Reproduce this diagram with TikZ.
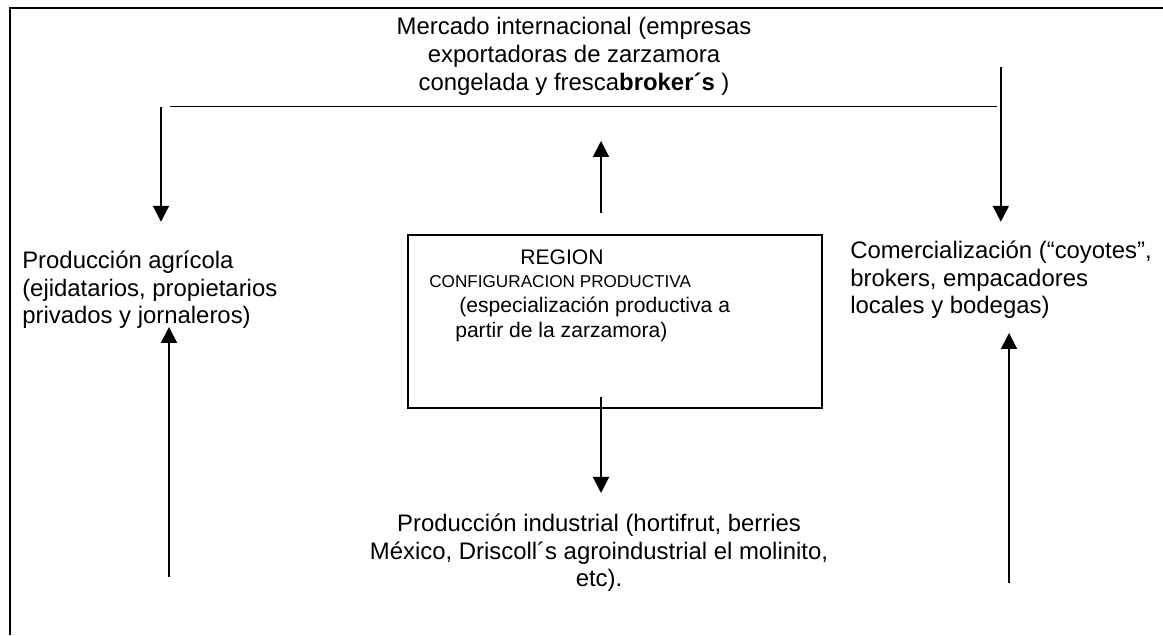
\documentclass[tikz,border=0pt]{standalone}
\usepackage{fontspec}
\setmainfont{Liberation Sans}
\usetikzlibrary{arrows.meta,positioning}

\begin{document}
\begin{tikzpicture}[
  txt/.style={font=\fontsize{17}{19.5}\selectfont, inner sep=0pt},
  boxline/.style={inner sep=0pt, anchor=west},
  flow/.style={-{Triangle[width=4mm,length=4mm]}, line width=1.35pt},
  link/.style={line width=1pt},
  frame/.style={line width=1.4pt},
]
\useasboundingbox (0,0) rectangle (29.075,15.875);

% ─── Outer frame (open to the right and below) ───
\draw[frame] (0.25,0) -- (0.25,15.675) -- (29.075,15.675);

% ─── Texts ───
\node[txt, align=center, font=\fontsize{17}{19.9}\selectfont] (mercado) at (14.35,14.475)
  {Mercado internacional (empresas\\exportadoras de zarzamora\\congelada y fresca\textbf{broker´s} )};
\node[txt, align=left, anchor=west] (agricola) at (0.55,8.625)
  {Producción agrícola\\(ejidatarios, propietarios\\privados y jornaleros)};
\node[txt, align=left, anchor=west] (comercial) at (21.25,8.875)
  {Comercialización (“coyotes”,\\brokers, empacadores\\locales y bodegas)};
\node[txt, align=center] (industrial) at (14.975,2.05)
  {Producción industrial (hortifrut, berries\\México, Driscoll´s agroindustrial el molinito,\\etc).};

% ─── Center box ───
\node[draw, line width=1pt, minimum width=10.35cm, minimum height=4.325cm, inner sep=0pt] (region) at (15.375,7.8375) {};
\node[boxline, anchor=center, font=\fontsize{15}{17}\selectfont] (reg) at (14.05,9.45) {REGION};
\node[boxline, font=\fontsize{12.2}{14}\selectfont] (config) at (10.725,8.825) {CONFIGURACION PRODUCTIVA};
\node[boxline, font=\fontsize{15}{17}\selectfont] (espec) at (11.475,8.2) {(especialización productiva a};
\node[boxline, font=\fontsize{15}{17}\selectfont] (partir) at (11.375,7.575) {partir de la zarzamora)};

% ─── Arrow ends ───
\coordinate (hl) at (4.25,13.21);
\coordinate (hr) at (24.925,13.21);
\coordinate (al) at (4.025,13.21);
\coordinate (alt) at (4.025,10.33);
\coordinate (ar) at (25.02,14.21);
\coordinate (art) at (25.02,10.33);
\coordinate (cu) at (15.025,10.55);
\coordinate (cut) at (15.025,12.35);
\coordinate (cd) at (15.025,5.95);
\coordinate (cdt) at (15.025,3.55);
\coordinate (lu) at (4.225,1.45);
\coordinate (lut) at (4.225,7.7);
\coordinate (ru) at (25.225,1.3);
\coordinate (rut) at (25.225,7.55);

% ─── Connectors ───
\draw[link] (hl) -- (hr);
\draw[flow] (al) -- (alt);
\draw[flow] (ar) -- (art);
\draw[flow] (cu) -- (cut);
\draw[flow] (cd) -- (cdt);
\draw[flow] (lu) -- (lut);
\draw[flow] (ru) -- (rut);

\end{tikzpicture}
\end{document}
